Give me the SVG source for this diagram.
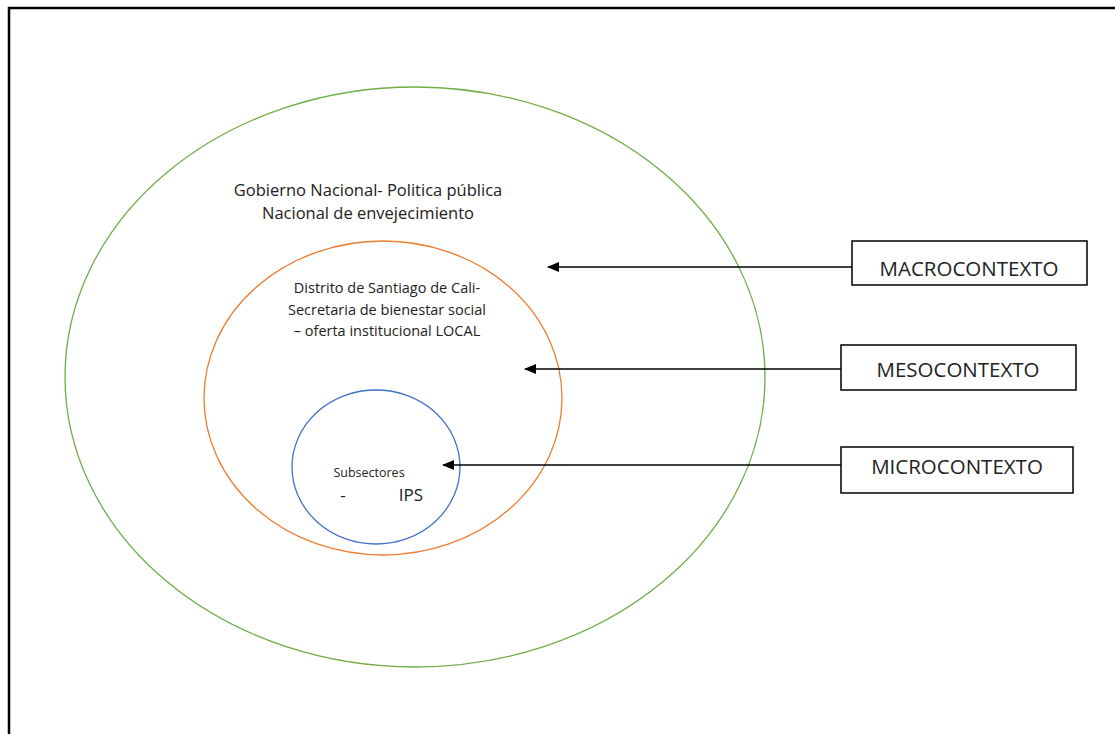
<svg xmlns="http://www.w3.org/2000/svg" width="1115" height="734" viewBox="0 0 1115 734">
<defs>
<marker id="ah" viewBox="0 0 12 10" refX="11" refY="5" markerWidth="12" markerHeight="10" markerUnits="userSpaceOnUse" orient="auto">
<path d="M0,0 L12,5 L0,10 Z" fill="#000"/>
</marker>
<style>
.t{font-family:"Open Sans","Liberation Sans",sans-serif;fill:#222;text-anchor:middle}
.box{fill:#fff;stroke:#000;stroke-width:1.5}
.conn{stroke:#000;stroke-width:1.5;fill:none}
.lbl{font-size:20.5px}
</style>
</defs>
<rect width="1115" height="734" fill="#fff"/>
<path d="M9,734 V8 H1115" fill="none" stroke="#000" stroke-width="2.5"/>
<g id="macro-circle">
<ellipse cx="415" cy="377" rx="350" ry="290" fill="none" stroke="#70ad47" stroke-width="1.3"/>
<text class="t" x="368" y="196" font-size="16.5">Gobierno Nacional- Politica pública</text>
<text class="t" x="368" y="219" font-size="16.5">Nacional de envejecimiento</text>
</g>
<g id="meso-circle">
<ellipse cx="383" cy="398" rx="179" ry="157" fill="none" stroke="#ed7d31" stroke-width="1.3"/>
<text class="t" x="387" y="293" font-size="14.5">Distrito de Santiago de Cali-</text>
<text class="t" x="387" y="315" font-size="14.5">Secretaria de bienestar social</text>
<text class="t" x="387" y="336" font-size="14.5">– oferta institucional LOCAL</text>
</g>
<g id="micro-circle">
<ellipse cx="376" cy="467" rx="84" ry="77" fill="none" stroke="#4472c4" stroke-width="1.3"/>
<text class="t" x="369" y="477" font-size="12.5">Subsectores</text>
<text class="t" x="343" y="501" font-size="17">-</text>
<text class="t" x="411" y="501" font-size="17">IPS</text>
</g>
<g id="connectors">
<line class="conn" x1="852" y1="267" x2="548" y2="267" marker-end="url(#ah)"/>
<line class="conn" x1="841" y1="369" x2="525" y2="369" marker-end="url(#ah)"/>
<line class="conn" x1="841" y1="465" x2="443" y2="465" marker-end="url(#ah)"/>
</g>
<g id="macrocontexto">
<rect class="box" x="852" y="241" width="235" height="44"/>
<text class="t lbl" x="969" y="275.5">MACROCONTEXTO</text>
</g>
<g id="mesocontexto">
<rect class="box" x="841" y="345" width="235" height="45"/>
<text class="t lbl" x="958" y="377">MESOCONTEXTO</text>
</g>
<g id="microcontexto">
<rect class="box" x="841" y="447" width="232" height="46"/>
<text class="t lbl" x="957" y="474">MICROCONTEXTO</text>
</g>
</svg>
